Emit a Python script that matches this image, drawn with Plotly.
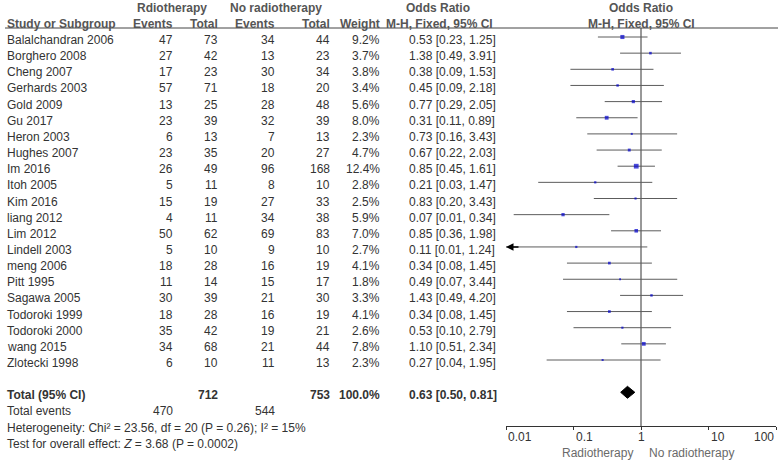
import numpy as np
import plotly.graph_objects as go

# ---------------- data ----------------
studies = ["Balalchandran 2006", "Borghero 2008", "Cheng 2007", "Gerhards 2003", "Gold 2009",
           "Gu 2017", "Heron 2003", "Hughes 2007", "Im 2016", "Itoh 2005", "Kim 2016",
           "liang 2012", "Lim 2012", "Lindell 2003", "meng 2006", "Pitt 1995", "Sagawa 2005",
           "Todoroki 1999", "Todoroki 2000", "wang 2015", "Zlotecki 1998"]
rad_events = [47, 27, 17, 57, 13, 23, 6, 23, 26, 5, 15, 4, 50, 5, 18, 11, 30, 18, 35, 34, 6]
rad_total = [73, 42, 23, 71, 25, 39, 13, 35, 49, 11, 19, 11, 62, 10, 28, 14, 39, 28, 42, 68, 10]
norad_events = [34, 13, 30, 18, 28, 32, 7, 20, 96, 8, 27, 34, 69, 9, 16, 15, 21, 16, 19, 21, 11]
norad_total = [44, 23, 34, 20, 48, 39, 13, 27, 168, 10, 33, 38, 83, 10, 19, 17, 30, 19, 21, 44, 13]
weights = [9.2, 3.7, 3.8, 3.4, 5.6, 8.0, 2.3, 4.7, 12.4, 2.8, 2.5, 5.9, 7.0, 2.7, 4.1, 1.8, 3.3,
           4.1, 2.6, 7.8, 2.3]
or_est = [0.53, 1.38, 0.38, 0.45, 0.77, 0.31, 0.73, 0.67, 0.85, 0.21, 0.83, 0.07, 0.85, 0.11,
          0.34, 0.49, 1.43, 0.34, 0.53, 1.10, 0.27]
or_lo = [0.23, 0.49, 0.09, 0.09, 0.29, 0.11, 0.16, 0.22, 0.45, 0.03, 0.20, 0.013, 0.36, 0.0097,
         0.08, 0.07, 0.49, 0.08, 0.10, 0.51, 0.04]
or_hi = [1.25, 3.91, 1.53, 2.18, 2.05, 0.89, 3.43, 2.03, 1.61, 1.47, 3.43, 0.34, 1.98, 1.24,
         1.45, 3.44, 4.20, 1.45, 2.79, 2.34, 1.95]

total_rad = 712
total_norad = 753
total_events_rad = 470
total_events_norad = 544
total_weight = "100.0%"
pooled_est, pooled_lo, pooled_hi = 0.63, 0.50, 0.81

heterogeneity = "Heterogeneity: Chi² = 23.56, df = 20 (P = 0.26); I² = 15%"
overall = "Test for overall effect: <i>Z</i> = 3.68 (P = 0.0002)"

tick_vals = [0.01, 0.1, 1, 10, 100]
tick_text = ["0.01", "0.1", "1", "10", "100"]
tick_anchor = ["left", "left", "center", "left", "right"]
axis_min, axis_max = 0.01, 100
null_value = 1

# ---------------- layout constants ----------------
W, H = 778, 460
FONT = "Liberation Sans, Arial, sans-serif"
TXT = "#333333"
HDR = "#555555"
ROW0_PX, ROW_PX = 37.0, 16.15
TOTAL_ROW = 22
AXIS_PX = 426
HEADER_LINE_PX = 28
TEXT_SHIFT = -3


def row_of(px):
    return (px - ROW0_PX) / ROW_PX


def px_x(px):
    return px / W


fig = go.Figure()

rows = list(range(len(studies)))

# null line
fig.add_trace(go.Scatter(x=[null_value, null_value], y=[row_of(HEADER_LINE_PX), row_of(AXIS_PX)],
                         mode="lines", line=dict(color="#333333", width=1), hoverinfo="skip"))

# CI lines
cx, cy = [], []
for r, lo, hi in zip(rows, or_lo, or_hi):
    cx += [max(lo, axis_min), min(hi, axis_max), None]
    cy += [r, r, None]
fig.add_trace(go.Scatter(x=cx, y=cy, mode="lines", line=dict(color="#5c5c5c", width=1),
                         hoverinfo="skip"))

# squares
fig.add_trace(go.Scatter(x=or_est, y=rows, mode="markers",
                         marker=dict(symbol="square", color="#0000CC",
                                     size=[np.sqrt(w) * 1.35 for w in weights],
                                     line=dict(width=0)),
                         hoverinfo="skip"))

# diamond
dh = 0.37
fig.add_trace(go.Scatter(x=[pooled_lo, pooled_est, pooled_hi, pooled_est, pooled_lo],
                         y=[TOTAL_ROW, TOTAL_ROW - dh, TOTAL_ROW, TOTAL_ROW + dh, TOTAL_ROW],
                         mode="lines", fill="toself", fillcolor="black",
                         line=dict(color="black", width=1), hoverinfo="skip"))

annotations = []


def txt(text, px, row, anchor="right", bold=False, color=TXT):
    annotations.append(dict(
        text=f"<b>{text}</b>" if bold else text, x=px_x(px), xref="paper", y=row, yref="y",
        xanchor=anchor, yanchor="middle", yshift=TEXT_SHIFT, showarrow=False,
        font=dict(family=FONT, size=12, color=color)))


# headers
txt("Rdiotherapy", 172, -2, "center", True, HDR)
txt("No radiotherapy", 276, -2, "center", True, HDR)
txt("Odds Ratio", 438, -2, "center", True, HDR)
txt("Odds Ratio", 641, -2, "center", True, HDR)
txt("Study or Subgroup", 5, -1, "left", True, HDR)
txt("Events", 175, -1, "right", True, HDR)
txt("Total", 220, -1, "right", True, HDR)
txt("Events", 277, -1, "right", True, HDR)
txt("Total", 332, -1, "right", True, HDR)
txt("Weight", 382, -1, "right", True, HDR)
txt("M-H, Fixed, 95% CI", 495, -1, "right", True, HDR)
txt("M-H, Fixed, 95% CI", 641, -1, "center", True, HDR)

# study rows
for r in rows:
    txt(studies[r], 5, r, "left")
    txt(str(rad_events[r]), 175, r)
    txt(str(rad_total[r]), 220, r)
    txt(str(norad_events[r]), 277, r)
    txt(str(norad_total[r]), 332, r)
    txt(f"{weights[r]:.1f}%", 382, r)
    txt(f"{or_est[r]:.2f} [{or_lo[r]:.2f}, {or_hi[r]:.2f}]", 407, r, "left")

# totals
txt("Total (95% CI)", 5, TOTAL_ROW, "left", True)
txt(str(total_rad), 220, TOTAL_ROW, "right", True)
txt(str(total_norad), 332, TOTAL_ROW, "right", True)
txt(total_weight, 382, TOTAL_ROW, "right", True)
txt(f"{pooled_est:.2f} [{pooled_lo:.2f}, {pooled_hi:.2f}]", 407, TOTAL_ROW, "left", True)
txt("Total events", 5, TOTAL_ROW + 1, "left")
txt(str(total_events_rad), 175, TOTAL_ROW + 1)
txt(str(total_events_norad), 277, TOTAL_ROW + 1)
txt(heterogeneity, 5, TOTAL_ROW + 2, "left")
txt(overall, 5, TOTAL_ROW + 3, "left")

# arrows for truncated CIs
for r, lo in zip(rows, or_lo):
    if lo < axis_min:
        annotations.append(dict(x=np.log10(axis_min), y=r, xref="x", yref="y", text="",
                                showarrow=True, ax=14, ay=0, arrowhead=2, arrowsize=1,
                                arrowwidth=1.5, arrowcolor="black"))

# tick labels
for v, t, a in zip(tick_vals, tick_text, tick_anchor):
    annotations.append(dict(x=np.log10(v), xref="x", y=1 - 437 / H, yref="paper", text=t,
                            xanchor=a, yanchor="middle", showarrow=False,
                            font=dict(family=FONT, size=12, color=TXT)))

# favours labels
annotations.append(dict(x=px_x(635), xref="paper", y=1 - 453 / H, yref="paper",
                        text="Radiotherapy", xanchor="right", yanchor="middle", showarrow=False,
                        font=dict(family=FONT, size=12, color="#6a6a6a")))
annotations.append(dict(x=px_x(647), xref="paper", y=1 - 453 / H, yref="paper",
                        text="No radiotherapy", xanchor="left", yanchor="middle", showarrow=False,
                        font=dict(family=FONT, size=12, color="#6a6a6a")))

fig.update_layout(
    width=W, height=H, margin=dict(l=0, r=0, t=0, b=0),
    paper_bgcolor="white", plot_bgcolor="white", showlegend=False,
    annotations=annotations,
    shapes=[dict(type="line", xref="paper", yref="paper", x0=px_x(5), x1=1,
                 y0=1 - HEADER_LINE_PX / H, y1=1 - HEADER_LINE_PX / H,
                 line=dict(color="#444444", width=1))],
    xaxis=dict(type="log", range=[np.log10(axis_min), np.log10(axis_max)],
               domain=[506 / W, 776 / W], anchor="free", position=(H - AXIS_PX) / H,
               showgrid=False, zeroline=False, showline=True, linecolor="#333333", linewidth=1,
               tickvals=tick_vals, showticklabels=False, ticks="outside", ticklen=3,
               tickcolor="#333333", fixedrange=True),
    yaxis=dict(range=[row_of(H), row_of(0)], domain=[0, 1], visible=False, fixedrange=True),
)

fig.write_html("out.html", config={"displayModeBar": False},
               post_script="document.body.style.margin='0';"
                           "document.body.style.overflow='hidden';")
